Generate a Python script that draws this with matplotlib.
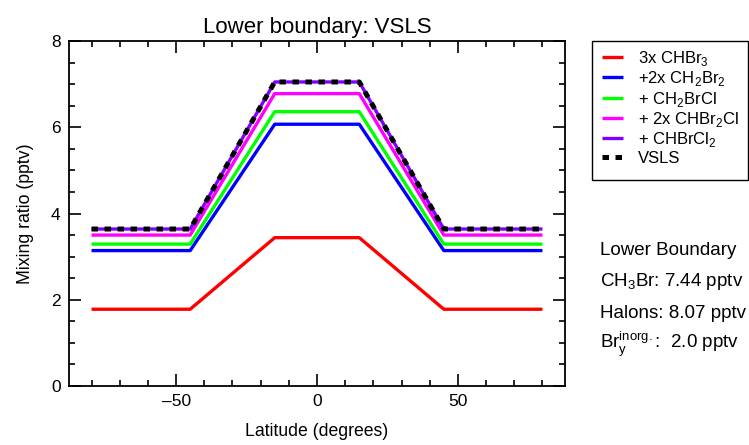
import matplotlib
matplotlib.use("Agg")
import matplotlib.pyplot as plt
import matplotlib.ticker as mt
from matplotlib.patches import Rectangle

plt.rcParams['font.family'] = ['Liberation Sans', 'DejaVu Sans']
plt.rcParams['mathtext.fontset'] = 'custom'
plt.rcParams['mathtext.rm'] = 'Liberation Sans'

lat = [-80, -45, -15, 15, 45, 80]
chbr3 = [1.78, 1.78, 3.44, 3.44, 1.78, 1.78]
ch2br2 = [3.14, 3.14, 6.07, 6.07, 3.14, 3.14]
ch2brcl = [3.29, 3.29, 6.36, 6.36, 3.29, 3.29]
chbr2cl = [3.50, 3.50, 6.78, 6.78, 3.50, 3.50]
chbrcl2 = [3.64, 3.64, 7.05, 7.05, 3.64, 3.64]
vsls = [3.64, 3.64, 7.05, 7.05, 3.64, 3.64]

labels = [r"3x CHBr$_\mathregular{3}$",
          r"+2x CH$_\mathregular{2}$Br$_\mathregular{2}$",
          r"+ CH$_\mathregular{2}$BrCl",
          r"+ 2x CHBr$_\mathregular{2}$Cl",
          r"+ CHBrCl$_\mathregular{2}$",
          "VSLS"]
colors = ['#ff0000', '#0000ff', '#00ff00', '#ff00ff', '#8000ff']

W, H = 749, 445
fig = plt.figure(figsize=(W / 100, H / 100), dpi=100)
ax = fig.add_axes([69 / W, 1 - 386 / H, (565 - 69) / W, (386 - 41) / H])

series = [chbr3, ch2br2, ch2brcl, chbr2cl, chbrcl2]
handles = []
for s, c, l in zip(series, colors, labels):
    h, = ax.plot(lat, s, color=c, lw=2.4, label=l, solid_capstyle='butt')
    handles.append(h)
h, = ax.plot(lat, vsls, color='black', lw=3.6, ls=(0, (1.3, 1.3)), label=labels[-1],
             dash_capstyle='butt')
handles.append(h)

ax.set_xlim(-88, 88)
ax.set_ylim(0, 8)
ax.xaxis.set_major_locator(mt.MultipleLocator(50))
ax.xaxis.set_minor_locator(mt.MultipleLocator(10))
ax.yaxis.set_major_locator(mt.MultipleLocator(2))
ax.yaxis.set_minor_locator(mt.MultipleLocator(0.5))
ax.tick_params(which='both', direction='in', top=True, right=True, labelsize=12.5, width=1.2)
ax.tick_params(which='major', length=8.8, pad=6)
ax.tick_params(which='minor', length=4.2)
for sp in ax.spines.values():
    sp.set_linewidth(1.3)
ax.xaxis.set_major_formatter(mt.FuncFormatter(lambda v, p: f"{int(v)}".replace('-', '\u2013')))

ax.set_title("Lower boundary: VSLS", fontsize=16, pad=6)
ax.set_xlabel("Latitude (degrees)", fontsize=12.7, labelpad=10)
ax.set_ylabel("Mixing ratio (pptv)", fontsize=12.7, labelpad=12)

leg = fig.legend(handles=handles, loc='upper left', bbox_to_anchor=(602 / W, 1 - 49 / H),
                 fontsize=12, frameon=False,
                 handlelength=1.25, handletextpad=0.9, labelspacing=0.08,
                 borderpad=0.0, borderaxespad=0)
fig.patches.append(Rectangle((592 / W, 1 - 180 / H), (748 - 592) / W, (180 - 41) / H,
                             transform=fig.transFigure, fill=False, edgecolor='black',
                             lw=1.0, figure=fig))

tx = 600 / W
fs = 13.5
fig.text(tx, 1 - 250.7 / H, "Lower Boundary", fontsize=fs, va='center')
fig.text(tx, 1 - 281.7 / H, r"CH$_\mathregular{3}$Br: 7.44 pptv", fontsize=fs, va='center')
fig.text(tx, 1 - 313 / H, "Halons: 8.07 pptv", fontsize=fs, va='center')
fig.text(tx, 1 - 344 / H, r"Br$_\mathregular{y}^\mathregular{inorg.}$:  2.0 pptv", fontsize=fs, va='center')

fig.savefig("out.png", dpi=100)
